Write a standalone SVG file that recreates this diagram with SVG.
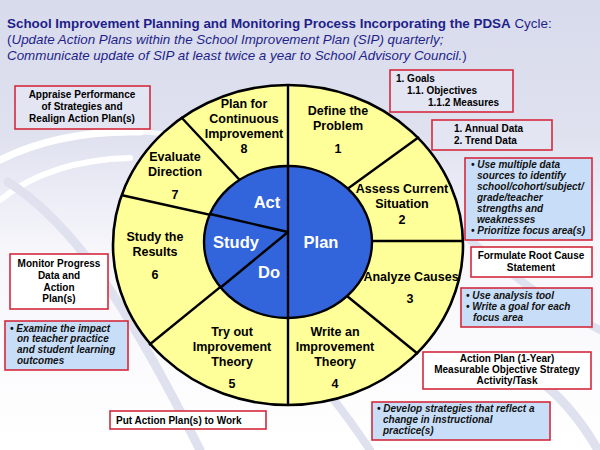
<svg xmlns="http://www.w3.org/2000/svg" width="600" height="450" viewBox="0 0 600 450">
<defs>
<linearGradient id="bg" x1="0" y1="0" x2="0" y2="1">
<stop offset="0" stop-color="#d8dbec"/>
<stop offset="0.3" stop-color="#dfe1ef"/>
<stop offset="0.55" stop-color="#f6f6fb"/>
<stop offset="1" stop-color="#ffffff"/>
</linearGradient>
<style>
.title{font-family:"Liberation Sans",Arial,sans-serif;font-size:13.4px;fill:#1f1f8a}
.wl{font-family:"Liberation Sans",Arial,sans-serif;font-size:12.5px;font-weight:bold;fill:#000;text-anchor:middle}
.il{font-family:"Liberation Sans",Arial,sans-serif;font-size:16.5px;font-weight:bold;fill:#fff;text-anchor:middle}
.bt{font-family:"Liberation Sans",Arial,sans-serif;font-size:10px;font-weight:bold;fill:#000}
.bi{font-family:"Liberation Sans",Arial,sans-serif;font-size:10px;font-weight:bold;font-style:italic;fill:#111}
.c{text-anchor:middle}
.box{stroke:#d42a3c;stroke-width:1.6}
.wb{fill:#ffffff}
.lb{fill:#c8def8}
.tb{fill:#e3e5f2}
.ln{stroke:#000;stroke-width:2.4;fill:none}
.sw{fill:none;stroke:#ffffff;stroke-linecap:round}
.lv{fill:none;stroke:#dfe1ef;stroke-linecap:round}
</style>
</defs>
<rect width="600" height="450" fill="url(#bg)"/>
<g id="background">
<path class="sw" stroke-width="7" d="M0 160 Q60 130 140 132"/>
<path class="sw" stroke-width="6" d="M0 200 Q50 160 130 158"/>
<path class="sw" stroke-width="5" opacity="0.8" d="M20 150 Q120 120 200 140"/>
<path class="lv" stroke-width="9" d="M8 182 Q60 215 110 290 Q150 350 200 450"/>
<path class="lv" stroke-width="8" d="M330 395 Q350 420 370 450"/>
<path class="lv" stroke-width="9" d="M545 385 Q575 410 598 450"/>
<path class="lv" stroke-width="8" d="M470 240 Q540 300 600 330"/>
</g>
<g id="title">
<text class="title" x="7" y="28"><tspan font-weight="bold">School Improvement Planning and Monitoring Process Incorporating the PDSA</tspan> Cycle:</text>
<text class="title" x="7" y="44">(<tspan font-style="italic">Update Action Plans within the School Improvement Plan (SIP) quarterly;</tspan></text>
<text class="title" x="7" y="60"><tspan font-style="italic">Communicate update of SIP at least twice a year to School Advisory Council.</tspan>)</text>
</g>
<g id="wheel">
<ellipse cx="288" cy="245" rx="175" ry="160" fill="#ffff99" stroke="#000" stroke-width="2.6"/>
</g>
<g id="connectors">
<line class="ln" x1="288" y1="85" x2="288" y2="405"/>
<line class="ln" x1="288" y1="232" x2="419" y2="137"/>
<line class="ln" x1="300" y1="241" x2="463" y2="241"/>
<line class="ln" x1="320" y1="274" x2="418" y2="354"/>
<line class="ln" x1="288" y1="232" x2="149" y2="345"/>
<line class="ln" x1="288" y1="232" x2="121" y2="195"/>
<line class="ln" x1="288" y1="232" x2="181" y2="117"/>
</g>
<g id="hub">
<ellipse cx="288" cy="242" rx="84" ry="76" fill="#3264dc" stroke="#000" stroke-width="2.4"/>
<line class="ln" x1="288" y1="166" x2="288" y2="318"/>
<line class="ln" x1="288" y1="232" x2="210" y2="214"/>
<line class="ln" x1="288" y1="232" x2="220" y2="288"/>
<text class="il" x="267" y="208">Act</text>
<text class="il" x="236" y="248">Study</text>
<text class="il" x="269" y="278">Do</text>
<text class="il" x="321" y="248">Plan</text>
</g>
<g id="step8"><text class="wl" x="244" y="108">Plan for</text><text class="wl" x="244" y="123">Continuous</text><text class="wl" x="244" y="138">Improvement</text><text class="wl" x="244" y="153">8</text></g>
<g id="step1"><text class="wl" x="338" y="115">Define the</text><text class="wl" x="338" y="130">Problem</text><text class="wl" x="338" y="153">1</text></g>
<g id="step2"><text class="wl" x="402" y="193">Assess Current</text><text class="wl" x="402" y="208">Situation</text><text class="wl" x="402" y="224">2</text></g>
<g id="step3"><text class="wl" x="411" y="281">Analyze Causes</text><text class="wl" x="410" y="303">3</text></g>
<g id="step4"><text class="wl" x="335" y="336">Write an</text><text class="wl" x="335" y="351">Improvement</text><text class="wl" x="335" y="366">Theory</text><text class="wl" x="335" y="388">4</text></g>
<g id="step5"><text class="wl" x="232" y="336">Try out</text><text class="wl" x="232" y="351">Improvement</text><text class="wl" x="232" y="366">Theory</text><text class="wl" x="232" y="388">5</text></g>
<g id="step6"><text class="wl" x="155" y="241">Study the</text><text class="wl" x="155" y="256">Results</text><text class="wl" x="155" y="279">6</text></g>
<g id="step7"><text class="wl" x="175" y="161">Evaluate</text><text class="wl" x="175" y="176">Direction</text><text class="wl" x="175" y="199">7</text></g>
<g id="box-appraise">
<rect class="box tb" x="15" y="86" width="135" height="43"/>
<text class="bt c" x="82" y="98">Appraise Performance</text>
<text class="bt c" x="82" y="110">of Strategies and</text>
<text class="bt c" x="82" y="122">Realign Action Plan(s)</text>
</g>
<g id="box-goals">
<rect class="box tb" x="390" y="70" width="123" height="42"/>
<text class="bt" x="396" y="82">1. Goals</text>
<text class="bt" x="407" y="94">1.1. Objectives</text>
<text class="bt" x="428" y="106">1.1.2 Measures</text>
</g>
<g id="box-data">
<rect class="box tb" x="432" y="120" width="120" height="30"/>
<text class="bt" x="454" y="132">1.  Annual Data</text>
<text class="bt" x="454" y="144">2.  Trend Data</text>
</g>
<g id="box-sources">
<rect class="box lb" x="465" y="158" width="127" height="82"/>
<text class="bi" x="471" y="168">• Use multiple data</text>
<text class="bi" x="477" y="179">sources to identify</text>
<text class="bi" x="477" y="190">school/cohort/subject/</text>
<text class="bi" x="477" y="201">grade/teacher</text>
<text class="bi" x="477" y="212">strengths and</text>
<text class="bi" x="477" y="223">weaknesses</text>
<text class="bi" x="471" y="234">• Prioritize focus area(s)</text>
</g>
<g id="box-rootcause">
<rect class="box wb" x="471" y="247" width="121" height="30"/>
<text class="bt c" x="531" y="259">Formulate Root Cause</text>
<text class="bt c" x="531" y="271">Statement</text>
</g>
<g id="box-analysis">
<rect class="box lb" x="461" y="288" width="131" height="39"/>
<text class="bi" x="466" y="299">• Use analysis tool</text>
<text class="bi" x="466" y="310">• Write a goal for each</text>
<text class="bi" x="473" y="321">focus area</text>
</g>
<g id="box-actionplan">
<rect class="box wb" x="423" y="352" width="168" height="37"/>
<text class="bt c" x="507" y="362">Action Plan (1-Year)</text>
<text class="bt c" x="507" y="373">Measurable Objective Strategy</text>
<text class="bt c" x="507" y="384">Activity/Task</text>
</g>
<g id="box-develop">
<rect class="box lb" x="372" y="402" width="178" height="38"/>
<text class="bi" x="377" y="412">• Develop strategies that reflect a</text>
<text class="bi" x="383" y="423">change in instructional</text>
<text class="bi" x="383" y="434">practice(s)</text>
</g>
<g id="box-work">
<rect class="box wb" x="110" y="411" width="156" height="18"/>
<text class="bt" x="116" y="424">Put Action Plan(s) to Work</text>
</g>
<g id="box-monitor">
<rect class="box wb" x="10" y="254" width="98" height="55"/>
<text class="bt c" x="59" y="267">Monitor Progress</text>
<text class="bt c" x="59" y="279">Data and</text>
<text class="bt c" x="59" y="291">Action</text>
<text class="bt c" x="59" y="302">Plan(s)</text>
</g>
<g id="box-examine">
<rect class="box lb" x="5" y="321" width="123" height="49"/>
<text class="bi" x="10" y="332">• Examine the impact</text>
<text class="bi" x="17" y="342">on teacher practice</text>
<text class="bi" x="17" y="353">and student learning</text>
<text class="bi" x="17" y="364">outcomes</text>
</g>
</svg>
